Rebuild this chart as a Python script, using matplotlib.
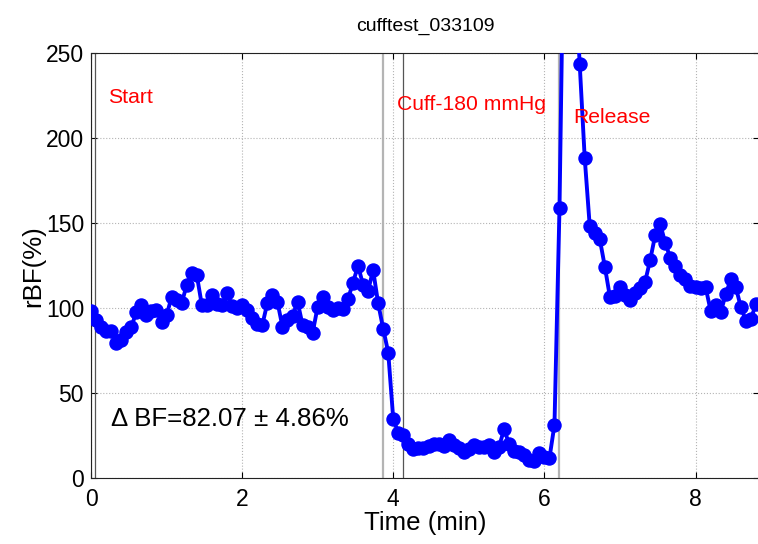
import numpy as np
import matplotlib
matplotlib.use("Agg")
import matplotlib.pyplot as plt

plt.rcParams['font.family'] = ['Liberation Sans', 'DejaVu Sans']

# Relative blood flow, one sample every 4 s (1/15 min)
sample_step_min = 1.0 / 15.0
rbf = [
    98.4, 93.0, 88.8, 86.9, 86.9, 79.4, 81.4, 86.3, 88.8, 98.0,
    101.9, 96.0, 98.6, 99.0, 92.1, 96.0, 106.5, 104.9, 103.0, 113.7,
    120.6, 119.6, 101.9, 101.9, 107.8, 102.5, 101.9, 109.2, 101.4, 100.0,
    101.9, 99.0, 94.1, 90.8, 90.2, 103.0, 107.8, 103.9, 89.2, 93.0,
    95.5, 103.9, 90.2, 88.8, 85.7, 101.0, 106.5, 101.0, 99.0, 100.0,
    99.4, 105.3, 115.0, 125.0, 114.0, 110.3, 122.5, 102.9, 88.0, 74.0,
    34.7, 26.9, 25.5, 20.2, 17.1, 17.7, 17.7, 19.0, 20.0, 20.2,
    19.0, 22.6, 19.6, 17.7, 15.7, 17.1, 19.6, 18.6, 18.6, 19.6,
    15.3, 18.6, 28.8, 20.2, 16.3, 15.7, 13.7, 10.8, 10.4, 14.7,
    12.7, 11.8, 31.5, 159.2, 360.0, 420.0, 300.0, 243.7, 188.6, 148.4,
    144.5, 140.6, 124.5, 106.8, 107.5, 112.7, 108.0, 104.9, 108.8, 111.8,
    115.7, 128.4, 143.1, 149.4, 138.4, 129.6, 124.7, 119.8, 117.0, 113.0,
    112.4, 112.0, 112.4, 98.6, 101.8, 97.6, 108.4, 117.0, 112.4, 100.6,
    92.7, 94.0, 102.4,
]
time_min = np.arange(len(rbf)) * sample_step_min

# Event markers (minutes)
light_marks = [0.0, 3.87, 6.19]
dark_marks = [0.049, 4.13]

event_labels = ["Start", "Cuff-180 mmHg", "Release"]
event_label_x = [0.225, 4.045, 6.38]
event_label_y = [224, 220, 212.5]

delta_bf = 82.07
delta_bf_sd = 4.86

xticks = [0, 2, 4, 6, 8]
yticks = [0, 50, 100, 150, 200, 250]

fig = plt.figure(figsize=(7.58, 5.44), dpi=100)
W, H = 758.0, 544.0
ax = fig.add_axes([91 / W, (H - 478.3) / H, 668 / W, 425 / H])

ax.set_xlim(0, 8.84)
ax.set_ylim(0, 250)

ax.grid(True, linestyle=':', color='#b4b4b4', linewidth=0.8)
ax.set_axisbelow(True)

for xm in light_marks:
    ax.axvline(xm, color='#b4b4b4', linewidth=1.6, zorder=1.5)
for xm in dark_marks:
    ax.axvline(xm, color='#555555', linewidth=0.9, zorder=1.5)

ax.plot(time_min, rbf, color='#0000ff', linewidth=2.8, marker='o',
        markersize=9.4, markeredgecolor='#0000ff', markerfacecolor='#0000ff',
        zorder=3)

for lbl, lx, ly in zip(event_labels, event_label_x, event_label_y):
    ax.text(lx, ly, lbl, color='#ff0000', fontsize=15.2, ha='left', va='center')

ax.text(0.27, 35, "\u0394 BF=%.2f \u00b1 %.2f%%" % (delta_bf, delta_bf_sd),
        color='black', fontsize=18.6, ha='left', va='center')

ax.set_xticks(xticks)
ax.set_yticks(yticks)
ax.tick_params(direction='in', length=4, width=0.8, top=True, right=True,
               labelsize=16.5, colors='black')
ax.tick_params(axis='x', pad=7)
ax.tick_params(axis='y', pad=5)
for sp in ax.spines.values():
    sp.set_linewidth(0.8)
    sp.set_color('#222222')

ax.set_title("cufftest_033109", fontsize=14, pad=16)
ax.set_xlabel("Time (min)", fontsize=18.6)
ax.xaxis.set_label_coords(0.5, -0.077)
ax.set_ylabel("rBF(%)", fontsize=18.6)
ax.yaxis.set_label_coords(-0.069, 0.5)

fig.savefig("out.png", dpi=100)
